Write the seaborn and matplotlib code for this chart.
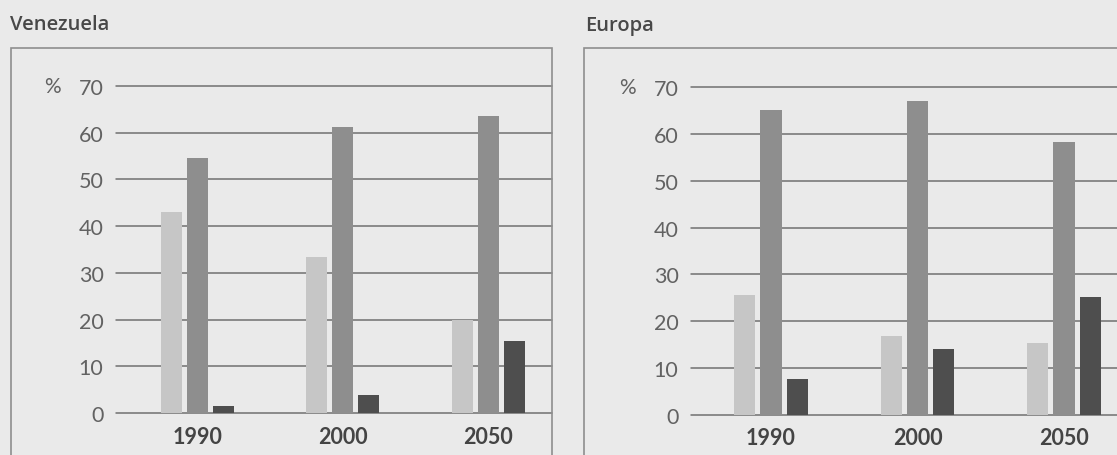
import matplotlib
matplotlib.use("Agg")
import matplotlib.pyplot as plt
from matplotlib.patches import Rectangle
import seaborn as sns
import pandas as pd

# ---- data ----
years = ["1990", "2000", "2050"]
series = ["A", "B", "C"]
venezuela_a = [43, 33.5, 20]
venezuela_b = [54.6, 61.2, 63.6]
venezuela_c = [1.5, 3.9, 15.4]
europa_a = [25.6, 16.8, 15.4]
europa_b = [65, 67, 58.2]
europa_c = [7.7, 14.1, 25.2]
yticks = [0, 10, 20, 30, 40, 50, 60, 70]
titles = ["Venezuela", "Europa"]

colors = ["#c6c6c6", "#8e8e8e", "#4e4e4e"]
bg = "#eaeaea"
W, H = 1117, 456

sns.set_theme(style="white")
plt.rcParams["font.family"] = ["Lato", "DejaVu Sans"]

fig = plt.figure(figsize=(W / 100, H / 100), dpi=100, facecolor=bg)


def make_df(a, b, c):
    rows = []
    for s, vals in zip(series, [a, b, c]):
        for y, v in zip(years, vals):
            rows.append({"year": y, "serie": s, "value": v})
    return pd.DataFrame(rows)


def px_axes(x0, y_top, x1, y_bot):
    return fig.add_axes([x0 / W, 1 - y_bot / H, (x1 - x0) / W, (y_bot - y_top) / H])


panels = [
    dict(df=make_df(venezuela_a, venezuela_b, venezuela_c), ax=(116, 87, 552, 414),
         xlim=(-0.558, 2.438), box=(10.5, 49, 552, 520), title_xy=(10, 29.5), pct_x=52),
    dict(df=make_df(europa_a, europa_b, europa_c), ax=(691, 88, 1117, 416),
         xlim=(-0.546, 2.362), box=(584, 49, 1200, 520), title_xy=(585, 31), pct_x=627.5),
]

for i, p in enumerate(panels):
    x0, yt, x1, yb = p["ax"]
    ax = px_axes(x0, yt, x1, yb)
    ax.set_facecolor("none")
    sns.barplot(data=p["df"], x="year", y="value", hue="serie", palette=colors,
                width=0.536, gap=0.19, saturation=1, legend=False, ax=ax,
                linewidth=0, zorder=3)
    ax.set_ylim(0, 70)
    ax.set_xlim(*p["xlim"])
    ax.set_yticks(yticks)
    ax.set_yticklabels([str(t) for t in yticks], fontweight="normal")
    ax.set_xlabel("")
    ax.set_ylabel("")
    for s in ax.spines.values():
        s.set_visible(False)
    for t in yticks:
        ax.axhline(t, color="#707070", lw=1.1, zorder=1, clip_on=False)
    ax.tick_params(axis="y", length=0, pad=9, labelsize=15.5, labelcolor="#626262")
    ax.tick_params(axis="x", length=0, pad=9, labelsize=15.5, labelcolor="#444444")
    for lab in ax.get_xticklabels():
        lab.set_fontweight("bold")

    # frame box
    bx0, by0, bx1, by1 = p["box"]
    fig.add_artist(Rectangle((bx0 / W, 1 - by1 / H), (bx1 - bx0) / W, (by1 - by0) / H,
                             transform=fig.transFigure, fill=False, lw=1.2,
                             edgecolor="#8e8e8e", clip_on=False))
    # title
    tx, ty = p["title_xy"]
    fig.text(tx / W, 1 - ty / H, titles[i], fontsize=14.5, fontweight="semibold",
             family=["Open Sans", "DejaVu Sans"],
             color="#484848", ha="left", va="baseline")
    # percent sign
    fig.text(p["pct_x"] / W, 1 - yt / H, "%", fontsize=15, fontweight="normal",
             color="#626262", ha="center", va="center")

fig.savefig("out.png", dpi=100, facecolor=bg)
